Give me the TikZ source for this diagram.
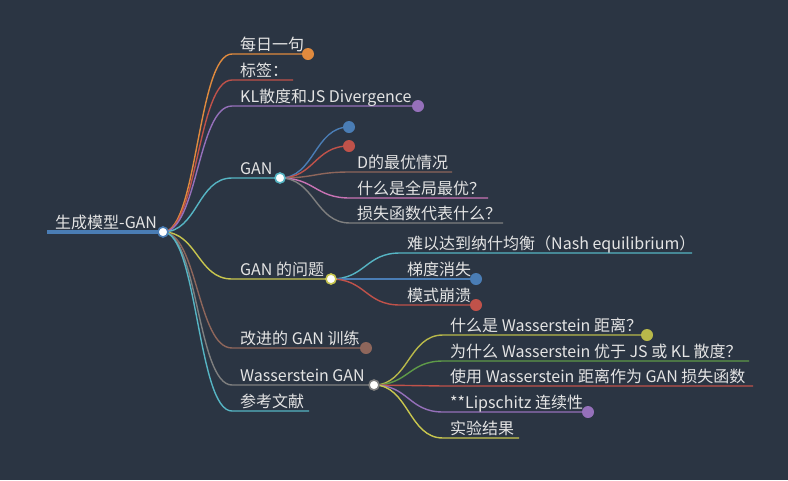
\documentclass[tikz,border=0pt]{standalone}
\usepackage{fontspec}
\setmainfont{Noto Sans CJK SC}
\usetikzlibrary{calc}
\definecolor{bg}{HTML}{2B3543}
\definecolor{txtc}{HTML}{E4E4E4}
\definecolor{blueC}{HTML}{4A7DB5}
\definecolor{orangeC}{HTML}{E08A3E}
\definecolor{redC}{HTML}{C0524A}
\definecolor{purpleC}{HTML}{9570BA}
\definecolor{cyanC}{HTML}{56B5C4}
\definecolor{yellowC}{HTML}{C8C64E}
\definecolor{oliveC}{HTML}{B8B84A}
\definecolor{brownC}{HTML}{8E665B}
\definecolor{grayC}{HTML}{7F7F7F}
\definecolor{pinkC}{HTML}{C873B4}
\definecolor{greenC}{HTML}{5E9A48}
\tikzset{
  link/.style={line width=1.4pt, to path={let \p1=(\tikztostart), \p2=(\tikztotarget) in
      .. controls ({(\x1+\x2)/2},\y1) and ({(\x1+\x2)/2},\y2) .. (\tikztotarget)}},
  lbl/.style={anchor=base west, inner sep=0pt, text=txtc, font=\fontsize{16}{18}\selectfont},
  dotc/.style={circle, fill=#1, minimum size=12pt, inner sep=0pt},
  hub/.style={circle, fill=white, draw=#1, line width=1.6pt, minimum size=10pt, inner sep=0pt},
}
\begin{document}
\begin{tikzpicture}[x=1pt,y=-1pt]
\fill[bg] (0,0) rectangle (788,480);
\useasboundingbox (0,0) rectangle (788,480);

% ---------- root ----------
\coordinate (rootL) at (47,232);
\coordinate (root) at (163,232);
\draw[blueC, line width=3.4pt] (rootL) -- (root);
\node[lbl] (troot) at (55,228.5) {生成模型-GAN};

% ---------- level 1 ----------
\coordinate (s1) at (232,54);  \coordinate (e1) at (308,54);
\coordinate (s2) at (232,80);  \coordinate (e2) at (293,80);
\coordinate (s3) at (232,106); \coordinate (e3) at (418,106);
\coordinate (s4) at (232,178); \coordinate (gan) at (280,178);
\coordinate (s5) at (232,279); \coordinate (prob) at (331,279);
\coordinate (s6) at (232,348); \coordinate (e6) at (366,348);
\coordinate (s7) at (232,385); \coordinate (wgan) at (374,385);
\coordinate (s8) at (232,411); \coordinate (e8) at (309,411);

\draw[link, orangeC] (root) to (s1) -- (e1);
\draw[link, redC] (root) to (s2) -- (e2);
\draw[link, purpleC] (root) to (s3) -- (e3);
\draw[link, cyanC] (root) to (s4) -- (gan);
\draw[link, yellowC] (root) to (s5) -- (prob);
\draw[link, brownC] (root) to (s6) -- (e6);
\draw[link, grayC] (root) to (s7) -- (wgan);
\draw[link, cyanC] (root) to (s8) -- (e8);

\node[lbl] (t1) at (240,50.5) {每日一句};
\node[lbl] (t2) at (240,76.5) {标签：};
\node[lbl] (t3) at (240,102.5) {KL散度和JS Divergence};
\node[lbl] (t4) at (240,174.5) {GAN};
\node[lbl] (t5) at (240,275.5) {GAN 的问题};
\node[lbl] (t6) at (240,344.5) {改进的 GAN 训练};
\node[lbl] (t7) at (240,381.5) {Wasserstein GAN};
\node[lbl] (t8) at (240,407.5) {参考文献};

% ---------- GAN children ----------
\coordinate (ga) at (349,127);
\coordinate (gb) at (349,146);
\coordinate (gc) at (350,172); \coordinate (gce) at (452,172);
\coordinate (gd) at (350,198); \coordinate (gde) at (488,198);
\coordinate (ge) at (350,223); \coordinate (gee) at (503,223);
\draw[link, blueC] (gan) to (ga);
\draw[link, redC] (gan) to (gb);
\draw[link, brownC] (gan) to (gc) -- (gce);
\draw[link, pinkC] (gan) to (gd) -- (gde);
\draw[link, grayC] (gan) to (ge) -- (gee);
\node[lbl] (tgc) at (357,168.5) {D的最优情况};
\node[lbl] (tgd) at (357,194.5) {什么是全局最优？};
\node[lbl] (tge) at (357,219.5) {损失函数代表什么？};

% ---------- GAN problems children ----------
\coordinate (pa) at (400,253); \coordinate (pae) at (692,253);
\coordinate (pb) at (400,279); \coordinate (pbe) at (476,279);
\coordinate (pc) at (400,305); \coordinate (pce) at (476,305);
\draw[link, cyanC] (prob) to (pa) -- (pae);
\draw[link, blueC] (prob) to (pb) -- (pbe);
\draw[link, redC] (prob) to (pc) -- (pce);
\node[lbl] (tpa) at (407,249.5) {难以达到纳什均衡（Nash equilibrium）};
\node[lbl] (tpb) at (407,275.5) {梯度消失};
\node[lbl] (tpc) at (407,301.5) {模式崩溃};

% ---------- WGAN children ----------
\coordinate (wa) at (443,335); \coordinate (wae) at (647,335);
\coordinate (wb) at (443,361); \coordinate (wbe) at (749,361);
\coordinate (wc) at (443,386); \coordinate (wce) at (753,386);
\coordinate (wd) at (443,412); \coordinate (wde) at (588,412);
\coordinate (we) at (443,438); \coordinate (wee) at (519,438);
\draw[link, oliveC] (wgan) to (wa) -- (wae);
\draw[link, greenC] (wgan) to (wb) -- (wbe);
\draw[link, redC] (wgan) to (wc) -- (wce);
\draw[link, purpleC] (wgan) to (wd) -- (wde);
\draw[link, yellowC] (wgan) to (we) -- (wee);
\node[lbl] (twa) at (450,331.5) {什么是 Wasserstein 距离？};
\node[lbl] (twb) at (450,357.5) {为什么 Wasserstein 优于 JS 或 KL 散度？};
\node[lbl] (twc) at (450,382.5) {使用 Wasserstein 距离作为 GAN 损失函数};
\node[lbl] (twd) at (450,408.5) {**Lipschitz 连续性};
\node[lbl] (twe) at (450,434.5) {实验结果};

% ---------- dots ----------
\node[dotc=orangeC] (d1) at (e1) {};
\node[dotc=purpleC] (d3) at (e3) {};
\node[dotc=brownC] (d6) at (e6) {};
\node[dotc=blueC] (dga) at (ga) {};
\node[dotc=redC] (dgb) at (gb) {};
\node[dotc=blueC] (dpb) at (pbe) {};
\node[dotc=redC] (dpc) at (pce) {};
\node[dotc=oliveC] (dwa) at (wae) {};
\node[dotc=purpleC] (dwd) at (wde) {};

% ---------- hubs ----------
\node[hub=blueC] (hroot) at (root) {};
\node[hub=cyanC] (hgan) at (gan) {};
\node[hub=yellowC] (hprob) at (prob) {};
\node[hub=grayC] (hwgan) at (wgan) {};
\end{tikzpicture}
\end{document}
